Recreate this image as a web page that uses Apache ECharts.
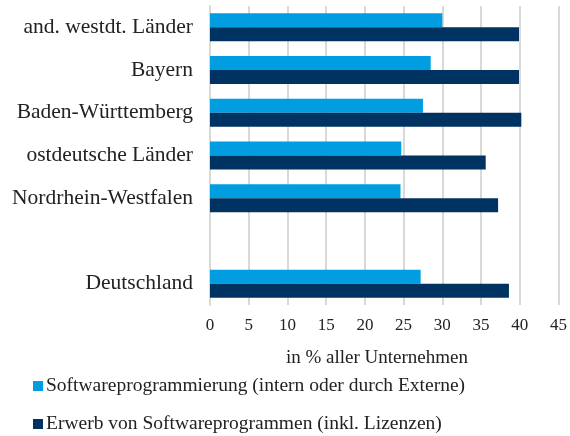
<!DOCTYPE html>
<html>
<head>
<meta charset="utf-8">
<script src="https://cdn.jsdelivr.net/npm/echarts@6/dist/echarts.min.js"></script>
<style>html,body{margin:0;padding:0;background:#fff}#c{width:570px;height:436px}</style>
</head>
<body>
<div id="c"></div>
<script>
var categories = ['and. westdt. Länder', 'Bayern', 'Baden-Württemberg', 'ostdeutsche Länder', 'Nordrhein-Westfalen', '', 'Deutschland'];
var seriesNames = ['Softwareprogrammierung (intern oder durch Externe)', 'Erwerb von Softwareprogrammen (inkl. Lizenzen)'];
var programmierung = [30.0, 28.5, 27.5, 24.7, 24.6, null, 27.2];
var erwerb = [39.9, 39.9, 40.2, 35.6, 37.2, null, 38.6];
var xTicks = [0, 5, 10, 15, 20, 25, 30, 35, 40, 45];
var axisTitle = 'in % aller Unternehmen';

var font = 'Liberation Serif';
var legendText = {fontFamily: font, fontSize: 19.5, color: '#222', padding: [0, 0, 0, -2]};
var chart = echarts.init(document.getElementById('c'));
chart.setOption({
  animation: false,
  title: {
    text: axisTitle,
    left: 372, top: 344, textAlign: 'center',
    textStyle: {fontFamily: font, fontSize: 19, fontWeight: 'normal', color: '#222'}
  },
  legend: [
    {left: 28, top: 371, itemWidth: 10, itemHeight: 10, icon: 'rect', itemGap: 0,
     textStyle: legendText, data: [seriesNames[0]], selectedMode: false},
    {left: 28, top: 409, itemWidth: 10, itemHeight: 10, icon: 'rect', itemGap: 0,
     textStyle: legendText, data: [seriesNames[1]], selectedMode: false}
  ],
  grid: {left: 210, right: 10, top: 6, bottom: 131, containLabel: false},
  xAxis: {
    type: 'value', min: xTicks[0], max: xTicks[xTicks.length - 1], interval: 5,
    axisLine: {show: false}, axisTick: {show: false},
    axisLabel: {fontFamily: font, fontSize: 17, color: '#222', margin: 12},
    splitLine: {show: true, lineStyle: {color: '#d9d9d9', width: 2}}
  },
  yAxis: {
    type: 'category', data: categories, inverse: true,
    axisLine: {show: true, lineStyle: {color: '#d9d9d9', width: 2}},
    axisTick: {show: false},
    axisLabel: {fontFamily: font, fontSize: 21.5, color: '#222', margin: 17}
  },
  series: [
    {name: seriesNames[0], type: 'bar', data: programmierung, barWidth: 14, barGap: '0%',
     itemStyle: {color: '#009ee0'}},
    {name: seriesNames[1], type: 'bar', data: erwerb, barWidth: 14, barGap: '0%',
     itemStyle: {color: '#003262'}}
  ]
});
</script>
</body>
</html>
